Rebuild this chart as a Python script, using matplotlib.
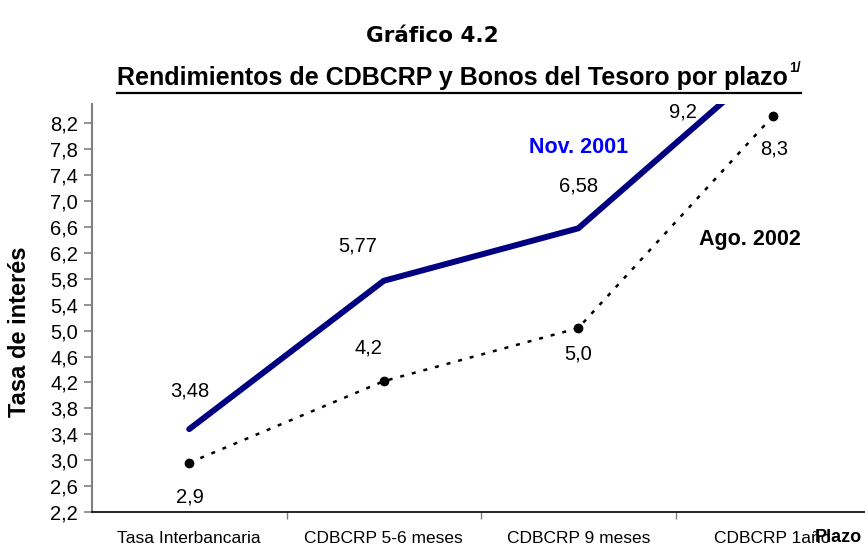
import matplotlib
matplotlib.use("Agg")
import matplotlib.pyplot as plt
from matplotlib.lines import Line2D
from matplotlib.ticker import FuncFormatter, FixedLocator
import numpy as np

categories = ["Tasa Interbancaria", "CDBCRP 5-6 meses", "CDBCRP 9 meses", "CDBCRP 1año"]
nov2001 = [3.48, 5.77, 6.58, 9.2]
ago2002 = [2.96, 4.22, 5.04, 8.31]
nov_labels = ["3,48", "5,77", "6,58", "9,2"]
ago_labels = ["2,9", "4,2", "5,0", "8,3"]
yticks = [2.2, 2.6, 3.0, 3.4, 3.8, 4.2, 4.6, 5.0, 5.4, 5.8, 6.2, 6.6, 7.0, 7.4, 7.8, 8.2]

plt.rcParams['font.family'] = ['Liberation Sans', 'DejaVu Sans']

W, H = 865, 550
fig = plt.figure(figsize=(W / 100, H / 100), dpi=100)
ax = fig.add_axes([92 / W, (H - 512) / H, (870 - 92) / W, (512 - 104) / H])

x = np.arange(len(categories))
ax.plot(x, nov2001, color="#000080", lw=4.3, solid_capstyle="round", solid_joinstyle="miter", zorder=3)
ax.plot(x, ago2002, color="black", lw=1.8, linestyle=(0, (1.6, 3.2)), marker="o", markersize=6,
        markerfacecolor="black", markeredgecolor="black", zorder=3)

ax.set_xlim(-0.5, len(categories) - 0.5)
ax.set_ylim(2.2, 8.5)

ax.yaxis.set_major_locator(FixedLocator(yticks))
ax.yaxis.set_major_formatter(FuncFormatter(lambda v, p: f"{v:.1f}".replace(".", ",")))
ax.tick_params(axis="y", labelsize=14.5, length=6, width=1.2, color="#808080", pad=4)

ax.set_xticks(x)
ax.set_xticklabels(categories)
ax.set_xticks(x[:-1] + 0.5, minor=True)
ax.tick_params(axis="x", which="major", length=0, labelsize=12.5, pad=14)
ax.tick_params(axis="x", which="minor", length=5, width=1, color="#808080")

for s in ["top", "right"]:
    ax.spines[s].set_visible(False)
ax.spines["left"].set_color("#808080")
ax.spines["left"].set_linewidth(1.5)
ax.spines["bottom"].set_color("black")
ax.spines["bottom"].set_linewidth(1.2)

nov_off = [(1, 38), (-26, 35), (0, 42), (-90, -53)]
ago_off = [(1, -34), (-15, 33), (0, -26), (1, -33)]
for i in range(len(categories)):
    ax.annotate(nov_labels[i], (x[i], nov2001[i]), xytext=nov_off[i], textcoords="offset pixels",
                ha="center", va="center", fontsize=14.5, annotation_clip=False)
    ax.annotate(ago_labels[i], (x[i], ago2002[i]), xytext=ago_off[i], textcoords="offset pixels",
                ha="center", va="center", fontsize=14.5, annotation_clip=False)

ax.text(2.0, 7.83, "Nov. 2001", color="#0000FF", fontsize=15.5, fontweight="bold", ha="center", va="center")
ax.text(2.885, 6.41, "Ago. 2002", color="black", fontsize=15.5, fontweight="bold", ha="center", va="center")

fig.text(20 / W, 1 - 332 / H, "Tasa de interés", fontsize=17, fontweight="bold", rotation=90,
         ha="center", va="center")

fig.text(838 / W, 1 - 538 / H, "Plazo", fontsize=13, fontweight="bold", ha="center", va="center")

fig.text(432 / W, 1 - 36 / H, "Gráfico 4.2", fontsize=15.5, fontweight="bold", ha="center", va="center",
         family=["DejaVu Sans"])

sub = fig.text(117 / W, 1 - 78 / H, "Rendimientos de CDBCRP y Bonos del Tesoro por plazo",
               fontsize=18, fontweight="bold", ha="left", va="center")
fig.canvas.draw()
bb = sub.get_window_extent()
sup = fig.text((bb.x1 + 1) / W, (bb.y1 - 2) / H, "1/", fontsize=10, fontweight="bold", ha="left", va="center")
fig.canvas.draw()
bb2 = sup.get_window_extent()
fig.add_artist(Line2D([bb.x0 / W, bb2.x1 / W], [(H - 93) / H, (H - 93) / H],
                      transform=fig.transFigure, color="black", lw=1.6))

fig.savefig("out.png", dpi=100)
